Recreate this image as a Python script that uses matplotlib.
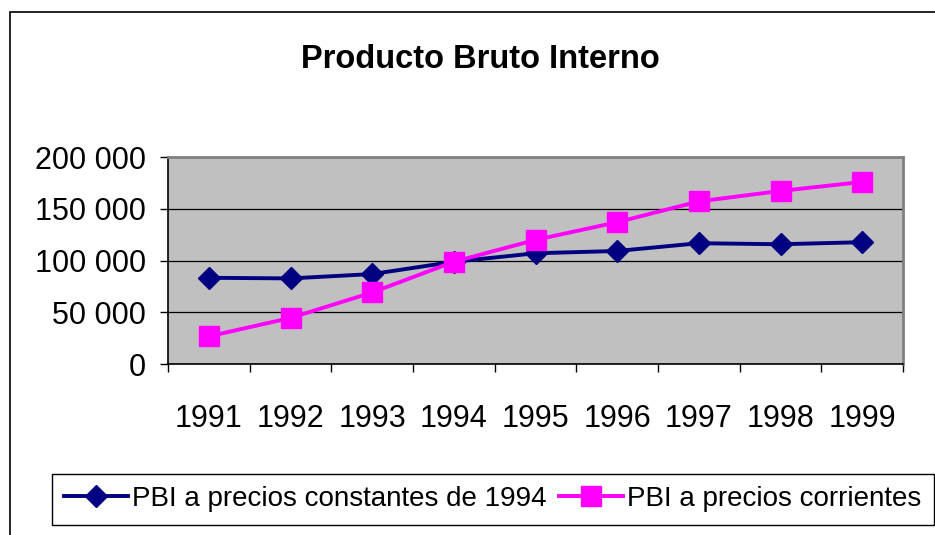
import matplotlib.pyplot as plt
from matplotlib.patches import Rectangle
from matplotlib.ticker import FuncFormatter

plt.rcParams['font.family'] = ['Liberation Sans', 'DejaVu Sans']

# data (millions of soles)
years = ['1991', '1992', '1993', '1994', '1995', '1996', '1997', '1998', '1999']
pbi_constantes = [83300, 82700, 86900, 98800, 107000, 109200, 116700, 115700, 117700]
pbi_corrientes = [26700, 44500, 69100, 98800, 119900, 137000, 157100, 167200, 175900]
yticks = [0, 50000, 100000, 150000, 200000]

W, H = 935, 535
fig = plt.figure(figsize=(W / 100, H / 100), dpi=100)

# plot area in pixels: left 168, right 903, top 157, bottom 364
ax = fig.add_axes([168 / W, 1 - 364 / H, 735 / W, 207 / H])
ax.set_facecolor('#C0C0C0')

x = list(range(len(years)))
ax.plot(x, pbi_constantes, color='#000080', linewidth=2.8, marker='D', markersize=11,
        label='PBI a precios constantes de 1994', zorder=3)
ax.plot(x, pbi_corrientes, color='#FF00FF', linewidth=2.8, marker='s', markersize=14,
        label='PBI a precios corrientes', zorder=4)

ax.set_xlim(-0.5, len(years) - 0.5)
ax.set_ylim(0, 200000)

# gridlines
ax.set_yticks(yticks)
ax.yaxis.grid(True, color='black', linewidth=0.9)
ax.set_axisbelow(True)
ax.yaxis.set_major_formatter(FuncFormatter(lambda v, p: f"{v:,.0f}".replace(",", " ")))

# category boundaries as ticks, labels centered
ax.set_xticks([i - 0.5 for i in range(len(years) + 1)])
ax.set_xticklabels([])
ax.set_xticks(x, minor=True)
ax.set_xticklabels(years, minor=True)
ax.tick_params(axis='x', which='major', length=6, width=1, direction='out')
ax.tick_params(axis='x', which='minor', length=0, pad=29, labelsize=22)
ax.tick_params(axis='y', length=6, width=1, direction='out', pad=10, labelsize=22)

for s in ['top', 'right']:
    ax.spines[s].set_color('#808080')
    ax.spines[s].set_linewidth(2)
for s in ['left', 'bottom']:
    ax.spines[s].set_color('black')
    ax.spines[s].set_linewidth(1.2)

fig.text(480 / W, 1 - 59 / H, 'Producto Bruto Interno', ha='center', va='center',
         fontsize=23.5, fontweight='bold')

leg = fig.legend(loc='center', bbox_to_anchor=(493 / W, 1 - 499 / H), ncol=2,
                 fontsize=20, frameon=True, fancybox=False, edgecolor='black',
                 framealpha=1, borderpad=0.45, handlelength=2.3, handletextpad=0.15,
                 columnspacing=0.45, borderaxespad=0)
leg.get_frame().set_linewidth(1.0)

# outer chart border (right and bottom are off the picture)
fig.patches.append(Rectangle((10 / W, -0.1), 1.1, 1 - 12 / H + 0.1, transform=fig.transFigure,
                             fill=False, edgecolor='black', linewidth=1.2))

fig.savefig('out.png', dpi=100)
